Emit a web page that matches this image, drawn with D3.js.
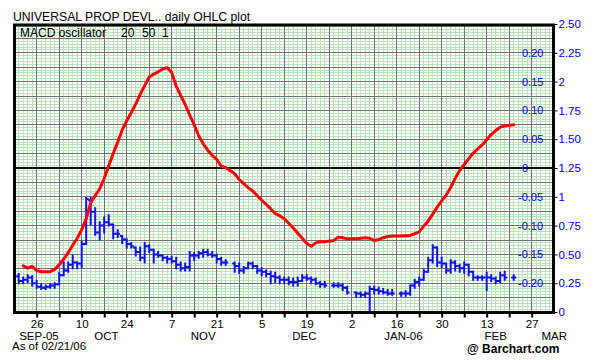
<!DOCTYPE html>
<html><head><meta charset="utf-8">
<script src="https://cdn.jsdelivr.net/npm/d3@7"></script>
<style>
body{margin:0;background:#fff}
svg{display:block}
text{font-family:"Liberation Sans",Arial,Helvetica,sans-serif}
</style>
</head><body>
<svg id="c" width="612" height="360"></svg>
<script>
// ---------- DATA ----------
const title = "UNIVERSAL PROP DEVL.. daily OHLC plot";
const studyParts = ["MACD oscillator","20","50","1"];
const asOf = "As of 02/21/06";
const credit = "@ Barchart.com";
const firstDay = "2005-09-19";   // weekday index 0
const holidays = ["2005-11-24","2005-12-26","2006-01-02","2006-01-16","2006-02-20"];

const priceTicks = [0,0.25,0.5,0.75,1,1.25,1.5,1.75,2,2.25,2.5];
const priceTickLabels = ["0","0.25","0.50","0.75","1","1.25","1.50","1.75","2","2.25","2.50"];
const macdTicks = [-0.20,-0.15,-0.10,-0.05,0,0.05,0.10,0.15,0.20];
const macdTickLabels = ["-0.20","-0.15","-0.10","-0.05","0","0.05","0.10","0.15","0.20"];

// one entry per weekday starting 2005-09-19 (index 0) ... 2006-02-21 (index 111)
const openP = [null,0.31,0.27,0.28,0.30,0.25,0.22,0.21,0.22,0.23,
  0.24,0.32,0.36,0.41,0.43,0.42,0.59,0.97,0.87,0.69,
  0.75,0.78,0.76,0.68,0.66,0.63,0.59,0.56,0.52,0.47,
  0.57,0.54,0.50,0.49,0.47,0.46,0.44,0.41,0.38,0.39,
  0.49,0.49,0.51,0.52,0.50,0.49,0.46,0.43,null,0.42,
  0.40,0.36,0.38,0.42,0.40,0.36,0.35,0.33,0.31,0.30,
  0.28,0.28,0.26,0.26,0.27,0.30,0.29,0.28,0.25,0.24,
  null,0.23,0.23,0.23,0.21,null,0.17,0.16,0.15,0.16,
  0.20,0.19,0.18,0.17,0.16,null,0.16,0.16,0.16,0.23,
  0.26,0.28,0.35,0.45,0.56,0.43,0.42,0.36,0.43,0.40,
  0.38,0.41,0.35,0.30,0.30,0.30,0.30,0.29,0.27,0.32,
  null,0.30];
const highP = [null,0.33,0.30,0.32,0.31,0.27,0.24,0.23,0.24,0.25,
  0.34,0.43,0.43,0.49,0.43,0.61,0.99,0.99,0.90,0.78,
  0.82,0.84,0.76,0.71,0.66,0.63,0.60,0.56,0.56,0.60,
  0.58,0.54,0.52,0.49,0.48,0.48,0.47,0.43,0.42,0.52,
  0.51,0.52,0.54,0.54,0.52,0.50,0.47,0.45,null,0.43,
  0.42,0.39,0.43,0.43,0.40,0.38,0.36,0.35,0.34,0.31,
  0.30,0.30,0.29,0.30,0.32,0.32,0.30,0.29,0.26,0.26,
  null,0.25,0.25,0.24,0.22,null,0.17,0.17,0.17,0.22,
  0.22,0.21,0.20,0.19,0.19,null,0.17,0.18,0.23,0.28,
  0.30,0.37,0.47,0.58,0.56,0.47,0.42,0.45,0.44,0.41,
  0.43,0.41,0.35,0.31,0.31,0.34,0.32,0.30,0.34,0.35,
  null,0.32];
const lowP = [null,0.25,0.25,0.26,0.23,0.21,0.20,0.20,0.21,0.21,
  0.24,0.32,0.35,0.38,0.38,0.39,0.59,0.76,0.67,0.63,
  0.69,0.75,0.64,0.65,0.60,0.56,0.56,0.49,0.45,0.43,
  0.52,0.43,0.48,0.45,0.43,0.43,0.38,0.36,0.36,0.36,
  0.45,0.47,0.48,0.49,0.48,0.43,0.41,0.41,null,0.35,
  0.34,0.34,0.38,0.38,0.34,0.32,0.31,0.25,0.26,0.25,
  0.25,0.24,0.23,0.23,0.27,0.28,0.25,0.24,0.22,0.22,
  null,0.22,0.22,0.19,0.16,null,0.13,0.13,0.13,0.01,
  0.16,0.16,0.16,0.15,0.15,null,0.14,0.14,0.15,0.21,
  0.23,0.28,0.35,0.43,0.40,0.39,0.34,0.34,0.36,0.35,
  0.34,0.32,0.28,0.28,0.28,0.19,0.27,0.25,0.26,0.28,
  null,0.28];
const closeP = [null,0.27,0.28,0.30,0.25,0.22,0.21,0.22,0.23,0.24,
  0.32,0.36,0.41,0.43,0.42,0.59,0.98,0.87,0.69,0.75,
  0.78,0.76,0.68,0.68,0.63,0.59,0.57,0.52,0.47,0.57,
  0.54,0.50,0.49,0.47,0.46,0.44,0.41,0.38,0.39,0.49,
  0.49,0.51,0.52,0.50,0.49,0.46,0.43,0.43,null,0.40,
  0.36,0.38,0.42,0.40,0.36,0.35,0.33,0.31,0.30,0.28,
  0.28,0.26,0.26,0.27,0.30,0.29,0.28,0.25,0.24,0.23,
  null,0.23,0.23,0.21,0.17,null,0.16,0.15,0.16,0.20,
  0.19,0.18,0.17,0.16,0.16,null,0.16,0.16,0.23,0.26,
  0.28,0.35,0.45,0.56,0.43,0.42,0.36,0.43,0.40,0.38,
  0.41,0.35,0.30,0.30,0.30,0.30,0.29,0.27,0.32,0.30,
  null,0.30];
const macd = [null,null,-0.170,-0.174,-0.171,-0.178,-0.180,-0.180,-0.180,-0.176,
  -0.168,-0.158,-0.147,-0.134,-0.122,-0.107,-0.088,-0.060,-0.048,-0.036,
  -0.018,0.004,0.025,0.045,0.066,0.082,0.096,0.111,0.128,0.143,
  0.158,0.163,0.167,0.172,0.174,0.166,0.142,0.126,0.110,0.092,
  0.075,0.056,0.042,0.031,0.022,0.015,0.003,0.001,null,-0.010,
  -0.020,-0.027,-0.034,-0.040,-0.048,-0.056,-0.063,-0.071,-0.079,-0.083,
  -0.088,-0.096,-0.104,-0.113,-0.122,-0.131,-0.136,-0.130,-0.128,-0.128,
  null,-0.126,-0.120,-0.121,-0.123,null,-0.123,-0.122,-0.121,-0.122,
  -0.126,-0.124,-0.121,-0.119,-0.118,null,-0.118,-0.1175,-0.117,-0.114,
  -0.111,-0.101,-0.092,-0.080,-0.068,-0.057,-0.047,-0.034,-0.018,-0.004,
  0.006,0.016,0.026,0.033,0.040,0.049,0.058,0.065,0.071,0.073,
  null,0.075];

// ---------- CHART ----------
const svg = d3.select("#c");
const L = 14.5, R = 553.5, T = 25, B = 312.5;
const x = d3.scaleLinear().domain([0,120]).range([14.2,554.2]);
const yP = d3.scaleLinear().domain([0,2.5]).range([312,24]);
const yM = d3.scaleLinear().domain([-0.25,0.25]).range([312,24]);

const parse = d3.timeParse("%Y-%m-%d");
const start = parse(firstDay);
const days = d3.timeDay.range(start, new Date(2006,2,20)).filter(d => d.getDay()>0 && d.getDay()<6);
const hol = new Set(holidays);
const fmt = d3.timeFormat("%Y-%m-%d");

svg.append("rect").attr("width",612).attr("height",360).attr("fill","#fff");

svg.append("clipPath").attr("id","pc").append("rect")
  .attr("x",L).attr("y",T).attr("width",R-L).attr("height",B-T);
const grid = svg.append("g").attr("clip-path","url(#pc)").attr("shape-rendering","crispEdges");

// minor green grid
grid.selectAll(".gv").data(d3.range(0,121)).join("line")
  .attr("x1",d=>x(d)).attr("x2",d=>x(d)).attr("y1",T).attr("y2",B)
  .attr("stroke","#b8e6b8").attr("stroke-width",1);
grid.selectAll(".gh").data(d3.range(0,101).map(k=>k*0.025)).join("line")
  .attr("x1",L).attr("x2",R).attr("y1",d=>yP(d)).attr("y2",d=>yP(d))
  .attr("stroke","#b8e6b8").attr("stroke-width",1);
// major gray grid
grid.selectAll(".mv").data(d3.range(5,120,5)).join("line")
  .attr("x1",d=>x(d)).attr("x2",d=>x(d)).attr("y1",T).attr("y2",B)
  .attr("stroke","#727272").attr("stroke-width",1);
grid.selectAll(".mh").data(d3.range(0,21).map(k=>k*0.125)).join("line")
  .attr("x1",L).attr("x2",R).attr("y1",d=>yP(d)).attr("y2",d=>yP(d))
  .attr("stroke","#727272").attr("stroke-width",1);

// zero line of MACD
svg.append("line").attr("x1",L).attr("x2",R).attr("y1",yM(0)).attr("y2",yM(0))
  .attr("stroke","#000").attr("stroke-width",2);

// inner MACD axis labels
const mAxis = svg.append("g").attr("transform","translate(522,0)")
  .call(d3.axisRight(yM).tickValues(macdTicks).tickSize(0).tickPadding(0)
        .tickFormat((d,i)=>macdTickLabels[i]));
mAxis.select(".domain").remove();
mAxis.selectAll("text").attr("fill","#0000ee").attr("font-size","11px")
  .attr("font-family","Liberation Sans, Arial, sans-serif")
  .attr("dx",(d)=> d<0 ? -4 : 0);

// OHLC bars
const idx = d3.range(0,openP.length).filter(i => highP[i]!=null);
const bars = svg.append("g").attr("stroke","#1010e8").attr("stroke-width",2).attr("clip-path","url(#pc)");
bars.selectAll(".hl").data(idx).join("line")
  .attr("x1",i=>x(i)).attr("x2",i=>x(i)).attr("y1",i=>yP(highP[i])-1).attr("y2",i=>yP(lowP[i])+1);
bars.selectAll(".op").data(idx).join("line")
  .attr("x1",i=>x(i)-2.5).attr("x2",i=>x(i)).attr("y1",i=>yP(openP[i])).attr("y2",i=>yP(openP[i]));
bars.selectAll(".cl").data(idx).join("line")
  .attr("x1",i=>x(i)).attr("x2",i=>x(i)+2.5).attr("y1",i=>yP(closeP[i])).attr("y2",i=>yP(closeP[i]));

// MACD line
const mIdx = d3.range(0,macd.length).filter(i => macd[i]!=null);
svg.append("path").datum(mIdx)
  .attr("d", d3.line().x(i=>x(i)).y(i=>yM(macd[i])))
  .attr("fill","none").attr("stroke","#ff0000").attr("stroke-width",3)
  .attr("stroke-linejoin","round").attr("stroke-linecap","round");

// frame
svg.append("rect").attr("x",L).attr("y",T).attr("width",R-L).attr("height",B-T)
  .attr("fill","none").attr("stroke","#000").attr("stroke-width",3);

// right price axis
const pAxis = svg.append("g").attr("transform",`translate(${R+1},0)`)
  .call(d3.axisRight(yP).tickValues(priceTicks).tickSize(3).tickPadding(1)
        .tickFormat((d,i)=>priceTickLabels[i]));
pAxis.select(".domain").remove();
pAxis.selectAll("line").attr("stroke","#000");
pAxis.selectAll("text").attr("fill","#0000ee").attr("font-size","11.5px")
  .attr("font-family","Liberation Sans, Arial, sans-serif");

// bottom axis
const dayFmt = d3.timeFormat("%-d");
const xAxis = svg.append("g").attr("transform",`translate(0,${B})`)
  .call(d3.axisBottom(x).tickValues(d3.range(5,120,5)).tickSize(5).tickPadding(2)
        .tickFormat(i => (i%10===5) ? dayFmt(days[i]) : ""));
xAxis.select(".domain").remove();
xAxis.selectAll("line").attr("stroke","#000").attr("stroke-width",2);
xAxis.selectAll("text").attr("fill","#000").attr("font-size","11.5px")
  .attr("font-family","Liberation Sans, Arial, sans-serif");

// month labels (centered on each month's span of trading days)
const monthFmt = d3.timeFormat("%b");
const yrFmt = d3.timeFormat("%y");
const months = [];
days.forEach((d,i) => {
  if (i>120 || hol.has(fmt(d)) || (i<openP.length && highP[i]==null)) return;
  const key = d.getFullYear()*12 + d.getMonth();
  let m = months.find(o=>o.key===key);
  if (!m) { m = {key, date:d, first:i}; months.push(m); }
});
months.forEach((m,k) => {
  const end = k<months.length-1 ? months[k+1].first : null;
  const cx = end==null ? x(120) : x((m.first+end)/2);
  const lab = monthFmt(m.date).toUpperCase() + ((k===0 || m.date.getMonth()===0) ? "-" + yrFmt(m.date) : "");
  svg.append("text").attr("x",cx).attr("y",339.5).attr("text-anchor","middle")
    .attr("font-size","11.5px").attr("fill","#000").text(lab);
});

// texts
svg.append("text").attr("x",13).attr("y",21).attr("font-size","12.2px").attr("fill","#000").text(title);
const st = svg.append("text").attr("y",36.5).attr("font-size","12px").attr("fill","#000");
const stX = [20,121,142,162];
studyParts.forEach((s,k)=> st.append("tspan").attr("x",stX[k]).text(s));
svg.append("text").attr("x",12).attr("y",350).attr("font-size","11.5px").attr("fill","#000").text(asOf);
svg.append("text").attr("x",467).attr("y",353).attr("font-size","12px").attr("font-weight","bold")
  .attr("font-family","Liberation Serif, Times New Roman, serif").attr("fill","#000").text(credit);
</script>
</body></html>
